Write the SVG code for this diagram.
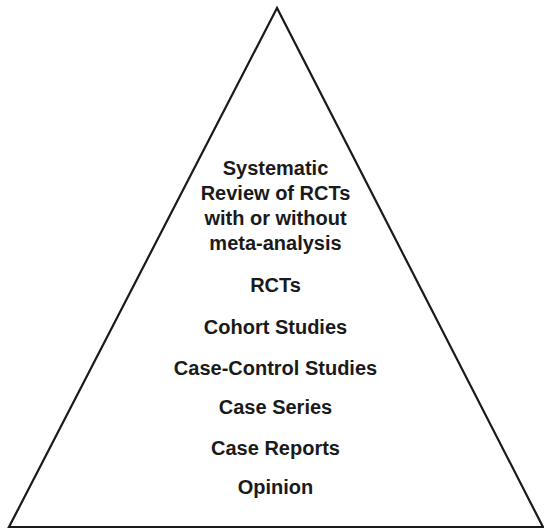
<svg xmlns="http://www.w3.org/2000/svg" width="544" height="529" viewBox="0 0 544 529">
<style>
.t{font-family:"Liberation Sans",Arial,Helvetica,sans-serif;font-weight:bold;font-size:20px;fill:#1a1a1a;text-anchor:middle}
</style>
<rect width="544" height="529" fill="#ffffff"/>
<g id="pyramid">
<polygon points="277,8 9,527 543,527" fill="none" stroke="#1a1a1a" stroke-width="2.2" stroke-linejoin="miter"/>
</g>
<g id="connectors"></g>
<g id="level-systematic-review">
<text class="t" x="275.5" y="175">Systematic</text>
<text class="t" x="275.5" y="200">Review of RCTs</text>
<text class="t" x="275.5" y="225">with or without</text>
<text class="t" x="275.5" y="250">meta-analysis</text>
</g>
<g id="level-rcts"><text class="t" x="275.5" y="292">RCTs</text></g>
<g id="level-cohort"><text class="t" x="275.5" y="334">Cohort Studies</text></g>
<g id="level-case-control"><text class="t" x="275.5" y="375">Case-Control Studies</text></g>
<g id="level-case-series"><text class="t" x="275.5" y="414">Case Series</text></g>
<g id="level-case-reports"><text class="t" x="275.5" y="455">Case Reports</text></g>
<g id="level-opinion"><text class="t" x="275.5" y="494">Opinion</text></g>
</svg>
